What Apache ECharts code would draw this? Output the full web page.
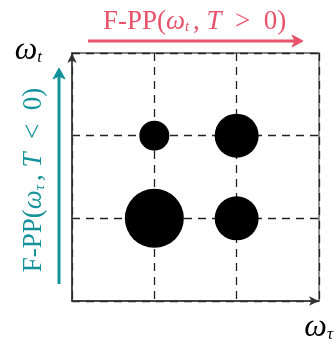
<!DOCTYPE html>
<html><head><meta charset="utf-8">
<script src="https://cdn.jsdelivr.net/npm/echarts@6/dist/echarts.min.js"></script>
<style>html,body{margin:0;padding:0;background:#fff}#c{width:336px;height:346px}</style>
</head><body><div id="c"></div>
<script>
// data
const pointX = [1, 2, 1, 2];         // ω_τ grid positions
const pointY = [2, 2, 1, 1];         // ω_t grid positions
const pointSize = [30, 44, 59, 44];  // relative circle diameters
const axisTicks = [0, 1, 2, 3];

const FONT = 'Liberation Serif';
const PINK = '#E8526B';
const TEAL = '#14929A';
const mathRich = (color, big, sub, key) => ({
  r: {fontFamily: FONT, fontSize: big, [key]: color, fontWeight: 'normal'},
  i: {fontFamily: FONT, fontSize: big, [key]: color, fontStyle: 'italic', fontWeight: 'normal'},
  s: {fontFamily: FONT, fontSize: sub, [key]: color, fontStyle: 'italic', fontWeight: 'normal', verticalAlign: 'bottom', lineHeight: big}
});

const chart = echarts.init(document.getElementById('c'), null, {renderer: 'canvas'});
const data = pointX.map((x, k) => [x, pointY[k], pointSize[k]]);

const nameRich = {
  w: {fontFamily: FONT, fontSize: 32, fontStyle: 'italic', color: '#000', lineHeight: 30},
  s: {fontFamily: FONT, fontSize: 17, fontStyle: 'italic', color: '#000', verticalAlign: 'bottom', lineHeight: 24}
};

chart.setOption({
  animation: false,
  title: {
    text: '{r|F-PP(}{i|ω}{s|t }{r|, }{i|T}{r|  >  0)}',
    left: 98, top: 3,
    textStyle: {fontWeight: 'normal', rich: mathRich(PINK, 27, 15, 'color')}
  },
  grid: {left: 72, top: 53, width: 248, height: 248, show: true, borderColor: '#555', borderWidth: 1.3},
  xAxis: {
    type: 'value', min: axisTicks[0], max: axisTicks[axisTicks.length - 1], interval: 1,
    axisLine: {show: true, lineStyle: {color: '#333', width: 1.5}, symbol: ['none', 'arrow'], symbolSize: [7, 10]},
    axisTick: {show: false}, axisLabel: {show: false},
    splitLine: {show: true, lineStyle: {color: '#222', width: 1.3, type: [8, 6]}},
    name: '{w|ω}{s|τ}', nameLocation: 'end', nameGap: 14,
    nameTextStyle: {align: 'right', verticalAlign: 'top', padding: [12, 0, 0, 0], rich: nameRich}
  },
  yAxis: {
    type: 'value', min: axisTicks[0], max: axisTicks[axisTicks.length - 1], interval: 1,
    axisLine: {show: true, lineStyle: {color: '#333', width: 1.5}, symbol: ['none', 'arrow'], symbolSize: [7, 10]},
    axisTick: {show: false}, axisLabel: {show: false},
    splitLine: {show: true, lineStyle: {color: '#222', width: 1.3, type: [8, 6]}},
    name: '{w|ω}{s|t}', nameLocation: 'end', nameGap: 2,
    nameTextStyle: {align: 'right', verticalAlign: 'middle', padding: [0, 30, 0, 0], rich: nameRich}
  },
  series: [{
    type: 'scatter', data: data,
    symbol: 'circle',
    symbolSize: v => v[2],
    itemStyle: {color: '#000', opacity: 1},
    z: 5
  }],
  graphic: [
    {type: 'line', shape: {x1: 88, y1: 41, x2: 296, y2: 41}, style: {stroke: PINK, lineWidth: 3}},
    {type: 'polygon', shape: {points: [[303, 41], [292, 35], [295, 41], [292, 47]]}, style: {fill: PINK, stroke: PINK, lineWidth: 1, lineJoin: 'round'}},
    {type: 'line', shape: {x1: 59, y1: 284, x2: 59, y2: 76}, style: {stroke: TEAL, lineWidth: 3}},
    {type: 'polygon', shape: {points: [[59, 68], [53, 79], [59, 76], [65, 79]]}, style: {fill: TEAL, stroke: TEAL, lineWidth: 1, lineJoin: 'round'}},
    {type: 'text', x: 34, y: 180, rotation: Math.PI / 2,
      style: {text: '{r|F-PP(}{i|ω}{s|τ }{r|, }{i|T}{r|  <  0)}', align: 'center', verticalAlign: 'middle',
        fill: TEAL, rich: mathRich(TEAL, 27, 15, 'fill')}}
  ]
});
</script>
</body></html>
